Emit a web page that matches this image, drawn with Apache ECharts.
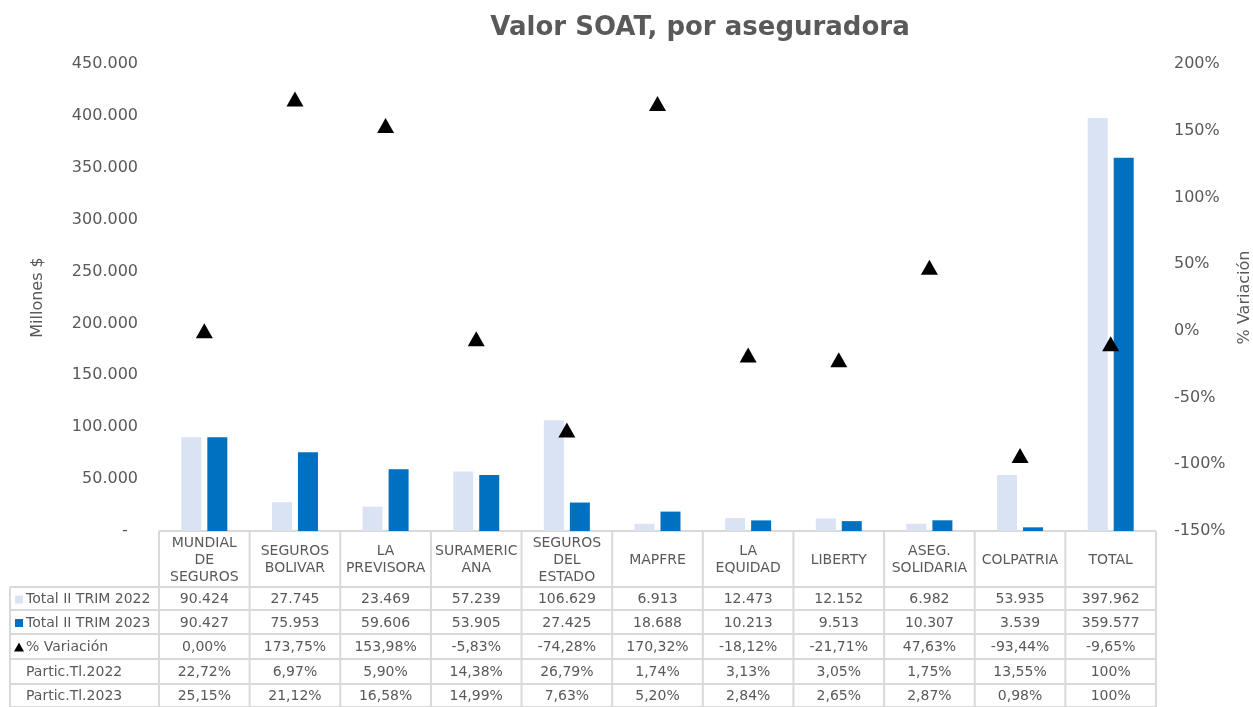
<!DOCTYPE html>
<html>
<head>
<meta charset="utf-8">
<script src="https://cdn.jsdelivr.net/npm/echarts@6/dist/echarts.min.js"></script>
<style>
  html, body { margin: 0; padding: 0; background: #fff; }
  #chart { width: 1253px; height: 707px; }
</style>
</head>
<body>
<div id="chart"></div>
<script>
// aseguradoras (cabecera de la tabla)
const categorias = ['MUNDIAL\nDE\nSEGUROS', 'SEGUROS\nBOLIVAR', 'LA\nPREVISORA', 'SURAMERIC\nANA', 'SEGUROS\nDEL\nESTADO',
  'MAPFRE', 'LA\nEQUIDAD', 'LIBERTY', 'ASEG.\nSOLIDARIA', 'COLPATRIA', 'TOTAL']
const total2022 = [90424, 27745, 23469, 57239, 106629, 6913, 12473, 12152, 6982, 53935, 397962]
const total2023 = [90427, 75953, 59606, 53905, 27425, 18688, 10213, 9513, 10307, 3539, 359577]
const variacion = [0.00, 173.75, 153.98, -5.83, -74.28, 170.32, -18.12, -21.71, 47.63, -93.44, -9.65]
const partic2022 = [22.72, 6.97, 5.90, 14.38, 26.79, 1.74, 3.13, 3.05, 1.75, 13.55, 100]
const partic2023 = [25.15, 21.12, 16.58, 14.99, 7.63, 5.20, 2.84, 2.65, 2.87, 0.98, 100]
const ticksIzq = [0, 50000, 100000, 150000, 200000, 250000, 300000, 350000, 400000, 450000]
const ticksDer = [-150, -100, -50, 0, 50, 100, 150, 200]

const chart = echarts.init(document.getElementById('chart'))

// medidas del area de grafico
const gLeft = 159, gRight = 1156, gTop = 64, gBottom = 531
const colW = (gRight - gLeft) / categorias.length
const gris = '#595959'
const borde = '#d9d9d9'
const fuente = 'DejaVu Sans'
const fTabla = '14px "' + fuente + '"'

function miles(v) {
  return String(v).replace(/\B(?=(\d{3})+(?!\d))/g, '.')
}
function pct(v) {
  if (v === 100) return '100%'
  return v.toFixed(2).replace('.', ',') + '%'
}

// filas de la tabla
const filas = [
  { nombre: 'Total II TRIM 2022', marca: 'rect', color: '#dae3f3', vals: total2022.map(miles) },
  { nombre: 'Total II TRIM 2023', marca: 'rect', color: '#0070c0', vals: total2023.map(miles) },
  { nombre: '% Variación', marca: 'tri', color: '#000', vals: variacion.map(pct) },
  { nombre: 'Partic.Tl.2022', marca: null, vals: partic2022.map(pct) },
  { nombre: 'Partic.Tl.2023', marca: null, vals: partic2023.map(pct) }
]
const filasY = [587, 610, 634, 659, 684, 707]

let graficos = []
// lineas horizontales
graficos.push({ type: 'line', shape: { x1: gLeft, y1: gBottom, x2: gRight, y2: gBottom }, style: { stroke: borde, lineWidth: 2 } })
filasY.forEach(y => {
  graficos.push({ type: 'line', shape: { x1: 10, y1: y, x2: gRight, y2: y }, style: { stroke: borde, lineWidth: 2 } })
})
// lineas verticales
for (let i = 0; i <= categorias.length; i++) {
  let x = gLeft + i * colW
  graficos.push({ type: 'line', shape: { x1: x, y1: gBottom, x2: x, y2: 707 }, style: { stroke: borde, lineWidth: 2 } })
}
graficos.push({ type: 'line', shape: { x1: 10, y1: 587, x2: 10, y2: 707 }, style: { stroke: borde, lineWidth: 2 } })

// cabecera
categorias.forEach((c, i) => {
  graficos.push({
    type: 'text', x: gLeft + (i + 0.5) * colW, y: (gBottom + 587) / 2 + 1,
    style: { text: c, font: fTabla, fill: gris, align: 'center', verticalAlign: 'middle', lineHeight: 17 }
  })
})
// filas
filas.forEach((f, r) => {
  let yc = (filasY[r] + filasY[r + 1]) / 2 + 1
  if (f.marca === 'rect') {
    graficos.push({ type: 'rect', shape: { x: 15, y: yc - 4, width: 8, height: 8 }, style: { fill: f.color } })
  } else if (f.marca === 'tri') {
    graficos.push({ type: 'polygon', shape: { points: [[19, yc - 5], [14, yc + 4], [24, yc + 4]] }, style: { fill: f.color } })
  }
  graficos.push({
    type: 'text', x: 26, y: yc,
    style: { text: f.nombre, font: fTabla, fill: gris, align: 'left', verticalAlign: 'middle' }
  })
  f.vals.forEach((v, i) => {
    graficos.push({
      type: 'text', x: gLeft + (i + 0.5) * colW, y: yc,
      style: { text: v, font: fTabla, fill: gris, align: 'center', verticalAlign: 'middle' }
    })
  })
})

const option = {
  animation: false,
  backgroundColor: '#fff',
  textStyle: { fontFamily: fuente },
  title: {
    text: 'Valor SOAT, por aseguradora',
    left: 695, top: 10, textAlign: 'center',
    textStyle: { fontFamily: fuente, fontSize: 26, fontWeight: 'bold', color: gris }
  },
  grid: {
    left: gLeft, right: 1253 - gRight, top: gTop, bottom: 707 - gBottom,
    containLabel: false, outerBoundsMode: 'none'
  },
  xAxis: {
    type: 'category',
    data: categorias,
    axisLine: { show: false },
    axisTick: { show: false },
    axisLabel: { show: false }
  },
  yAxis: [{
    type: 'value',
    min: ticksIzq[0], max: ticksIzq[ticksIzq.length - 1], interval: 50000,
    name: 'Millones $', nameLocation: 'middle', nameGap: 113, nameRotate: 90,
    nameTextStyle: { fontSize: 16, color: gris, fontFamily: fuente },
    axisLine: { show: false }, axisTick: { show: false }, splitLine: { show: false },
    axisLabel: {
      fontSize: 16, color: gris, margin: 21, fontFamily: fuente,
      formatter: v => v === 0 ? '-  ' : miles(v)
    }
  }, {
    type: 'value',
    min: ticksDer[0], max: ticksDer[ticksDer.length - 1], interval: 50,
    name: '% Variación', nameLocation: 'middle', nameGap: 80, nameRotate: 90,
    nameTextStyle: { fontSize: 16, color: gris, fontFamily: fuente },
    axisLine: { show: false }, axisTick: { show: false }, splitLine: { show: false },
    axisLabel: { fontSize: 16, color: gris, margin: 18, fontFamily: fuente, formatter: v => v + '%' }
  }],
  series: [{
    name: 'Total II TRIM 2022', type: 'bar', data: total2022,
    itemStyle: { color: '#dae3f3' }, barWidth: 20, barGap: '30%'
  }, {
    name: 'Total II TRIM 2023', type: 'bar', data: total2023,
    itemStyle: { color: '#0070c0' }, barWidth: 20
  }, {
    name: '% Variación', type: 'scatter', yAxisIndex: 1, data: variacion,
    symbol: 'triangle', symbolSize: [17, 15], itemStyle: { color: '#000', opacity: 1 }, z: 5
  }],
  graphic: graficos
}

chart.setOption(option)
</script>
</body>
</html>
